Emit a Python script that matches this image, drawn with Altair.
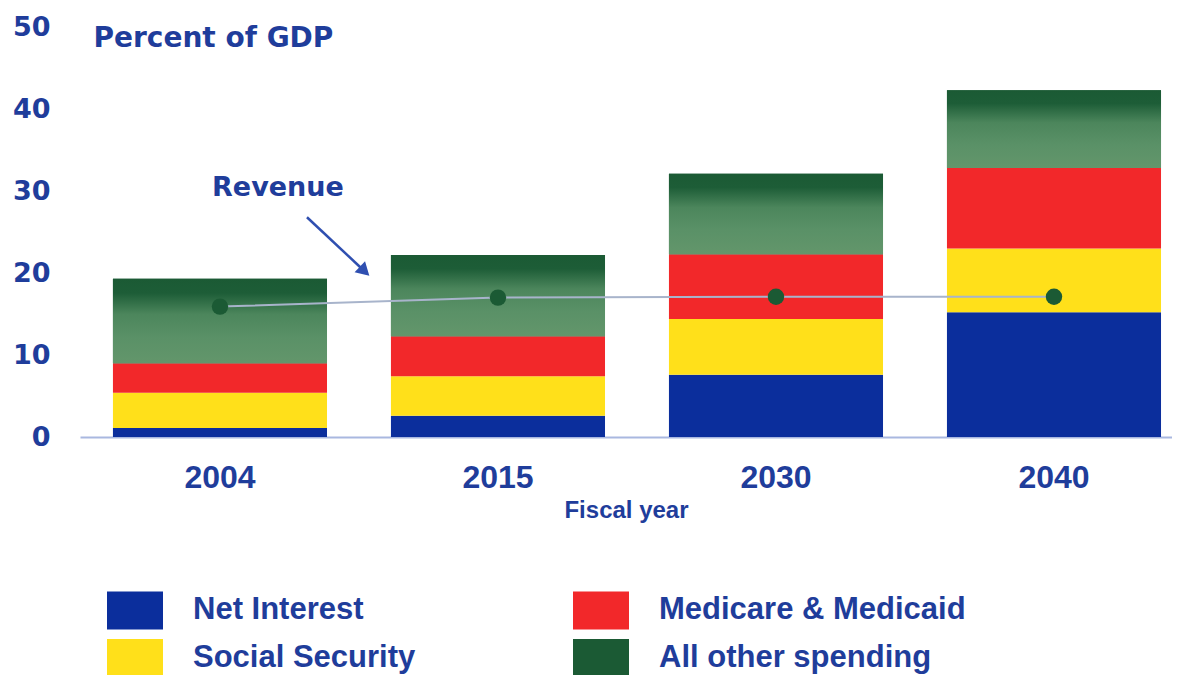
import altair as alt
import pandas as pd

years = ["2004", "2015", "2030", "2040"]
net_interest = [1.1, 2.6, 7.6, 15.2]
social_security = [4.3, 4.8, 6.8, 7.8]
medicare_medicaid = [3.6, 4.9, 7.9, 9.8]
all_other = [10.3, 9.9, 9.8, 9.5]
revenue = [15.9, 17.0, 17.1, 17.1]

categories = ["Net Interest", "Social Security", "Medicare & Medicaid", "All other spending"]
cat_colors = ["#0b2e9c", "#ffe01a", "#f2282a", "#1b5a34"]

NAVY = "#1f3d9b"
FONT = "Liberation Sans"
WIDE = "DejaVu Sans"

rows = []
series = [net_interest, social_security, medicare_medicaid, all_other]
for i, y in enumerate(years):
    for k, cat in enumerate(categories):
        rows.append({"year": y, "category": cat, "order": k, "value": series[k][i]})
df = pd.DataFrame(rows)
df_rev = pd.DataFrame({"year": years, "revenue": revenue})

xscale = alt.Scale(domain=years, paddingInner=0.23, paddingOuter=0.079, align=0.75)
yscale = alt.Scale(domain=[0, 50], nice=False)

xenc = alt.X("year:N", scale=xscale, sort=years,
             axis=alt.Axis(title="Fiscal year", labelAngle=0, ticks=False, domain=True,
                           domainColor="#a9b8e0", domainWidth=2, labelFontSize=32,
                           labelFont=FONT, labelFontWeight="bold", labelColor=NAVY,
                           labelPadding=25, titleFont=FONT, titleFontSize=24,
                           titleFontWeight="bold", titleColor=NAVY, titlePadding=5))

stacked = alt.Chart(df).transform_stack(
    stack="value", groupby=["year"], as_=["y0", "y1"], sort=[alt.SortField("order")]
)

bars = stacked.mark_bar(opacity=1).encode(
    x=xenc,
    y=alt.Y("y0:Q", scale=yscale,
            axis=alt.Axis(values=[0, 10, 20, 30, 40, 50], ticks=False, domain=False, grid=False,
                          labelFontSize=27, labelFont=WIDE, labelFontWeight="bold",
                          labelColor=NAVY, labelPadding=30,
                          title="Percent of GDP", titleAngle=0, titleAlign="left",
                          titleBaseline="middle", titleX=13, titleY=11,
                          titleFont=WIDE, titleFontSize=28, titleFontWeight="bold",
                          titleColor=NAVY)),
    y2="y1:Q",
    color=alt.Color("category:N",
                    scale=alt.Scale(domain=categories, range=cat_colors),
                    legend=alt.Legend(title=None, orient="none", legendX=27, legendY=555,
                                      columns=2, columnPadding=157, rowPadding=-5,
                                      symbolType="M-1,-0.68H1V0.68H-1Z", symbolSize=3136,
                                      symbolStrokeWidth=0, symbolOpacity=1,
                                      labelFont=FONT, labelFontSize=31, labelFontWeight="bold",
                                      labelColor=NAVY, labelOffset=30, labelLimit=0)),
)

gradient = alt.Gradient(
    gradient="linear", x1=0, y1=0, x2=0, y2=1,
    stops=[alt.GradientStop(offset=0, color="#1b5a34"),
           alt.GradientStop(offset=0.17, color="#1d5d37"),
           alt.GradientStop(offset=0.42, color="#4c865c"),
           alt.GradientStop(offset=0.7, color="#5a9167"),
           alt.GradientStop(offset=1, color="#63966b")],
)

green = stacked.transform_filter(
    alt.datum.category == "All other spending"
).mark_bar(color=gradient, opacity=1).encode(x=alt.X("year:N", scale=xscale, sort=years),
                                             y=alt.Y("y0:Q", scale=yscale), y2="y1:Q")

line = alt.Chart(df_rev).mark_line(color="#a8b4cb", strokeWidth=2).encode(
    x=alt.X("year:N", scale=xscale, sort=years), y=alt.Y("revenue:Q", scale=yscale))
dots = alt.Chart(df_rev).mark_circle(size=270, color="#1b5a34", opacity=1).encode(
    x=alt.X("year:N", scale=xscale, sort=years), y=alt.Y("revenue:Q", scale=yscale))

ann = pd.DataFrame({"year": ["2004"], "year2": ["2015"], "ty": [30.4], "ay": [26.8],
                    "ay2": [20.4], "label": ["Revenue"]})
ann_text = alt.Chart(ann).mark_text(xOffset=58, font=WIDE, fontSize=27, fontWeight="bold",
                                    color=NAVY, align="center", baseline="middle").encode(
    x=alt.X("year:N", scale=xscale, sort=years), y=alt.Y("ty:Q", scale=yscale), text="label:N")
ann_rule = alt.Chart(ann).mark_rule(color="#2f4fb0", strokeWidth=2.5, xOffset=87,
                                    x2Offset=-135).encode(
    x=alt.X("year:N", scale=xscale, sort=years), x2="year2:N",
    y=alt.Y("ay:Q", scale=yscale), y2="ay2:Q")
ann_head = alt.Chart(ann).mark_point(shape="triangle", filled=True, size=230, angle=133.6,
                                     color="#2f4fb0", opacity=1, xOffset=-135).encode(
    x=alt.X("year2:N", scale=xscale, sort=years), y=alt.Y("ay2:Q", scale=yscale))

chart = alt.layer(bars, green, line, dots, ann_text, ann_rule, ann_head).properties(
    width=1092, height=410,
    autosize=alt.AutoSizeParams(type="none"),
    padding={"left": 72, "top": 19, "right": 0, "bottom": 238},
    background="white",
).configure_view(stroke=None)

chart.save("out.html", embed_options={"renderer": "svg", "actions": False})
